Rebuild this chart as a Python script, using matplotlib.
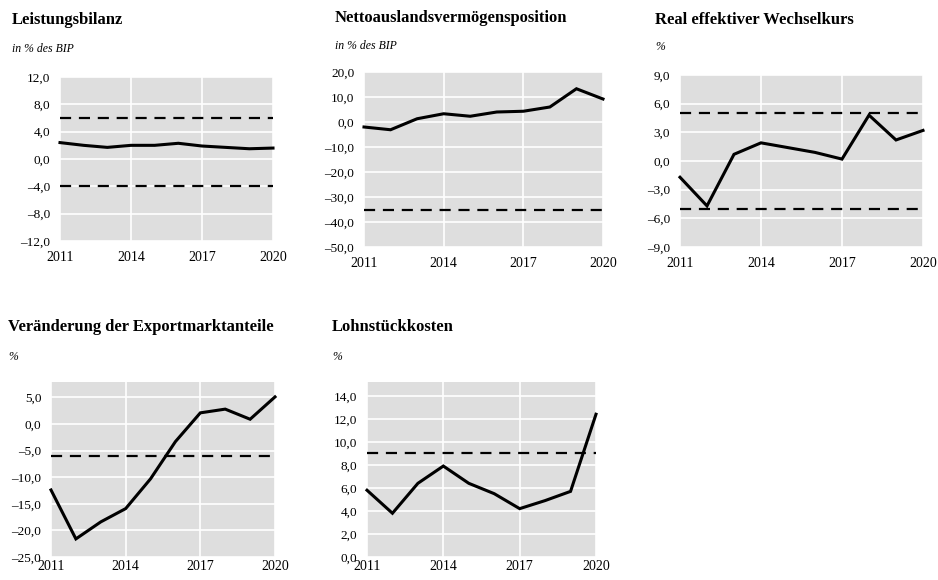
import matplotlib
matplotlib.use("Agg")
import matplotlib.pyplot as plt
from matplotlib.ticker import FuncFormatter

plt.rcParams['font.family'] = ['Liberation Serif', 'DejaVu Serif']

years = [2011, 2012, 2013, 2014, 2015, 2016, 2017, 2018, 2019, 2020]

leistungsbilanz = [2.4, 2.0, 1.7, 2.0, 2.0, 2.3, 1.9, 1.7, 1.5, 1.6]
netto = [-2.0, -3.1, 1.3, 3.3, 2.3, 4.0, 4.3, 6.0, 13.3, 9.2]
wechselkurs = [-1.7, -4.7, 0.7, 1.9, 1.4, 0.9, 0.2, 4.8, 2.2, 3.2]
export = [-12.4, -21.6, -18.4, -15.9, -10.3, -3.3, 2.1, 2.8, 0.9, 5.1]
lohn = [5.8, 3.8, 6.4, 7.9, 6.4, 5.5, 4.2, 4.9, 5.7, 12.4]

titles = ["Leistungsbilanz", "Nettoauslandsvermögensposition", "Real effektiver Wechselkurs",
          "Veränderung der Exportmarktanteile", "Lohnstückkosten"]
units = ["in % des BIP", "in % des BIP", "%", "%", "%"]
thresholds = [[6.0, -4.0], [-35.0], [5.0, -5.0], [-6.0], [9.0]]
yticks = [list(range(-12, 13, 4)), list(range(-50, 21, 10)), list(range(-9, 10, 3)),
          list(range(-25, 6, 5)), list(range(0, 15, 2))]
ylims = [(-12, 12), (-50, 20), (-9, 9), (-25, 7.9), (0, 15.2)]
xticks = [2011, 2014, 2017, 2020]
series = [leistungsbilanz, netto, wechselkurs, export, lohn]

W, H = 938, 580
fig = plt.figure(figsize=(W / 100, H / 100), dpi=100)

# pixel boxes: left, top, right, bottom
boxes = [(60, 77, 273, 241), (364, 72, 603, 247), (680, 75, 923, 247),
         (51, 382, 275, 557), (367, 382, 596, 557)]
title_pos = [(12, 20, 49), (335, 18, 46), (655, 20, 47), (8, 327, 357), (332, 327, 357)]
xpads = [7, 7, 7, 2, 2]

def fmt(v, pos):
    s = f"{v:.1f}".replace(".", ",")
    return s.replace("-", "\u2013")

for i in range(5):
    l, t, r, b = boxes[i]
    ax = fig.add_axes([l / W, 1 - b / H, (r - l) / W, (b - t) / H])
    ax.set_facecolor("#dedede")
    for s in ax.spines.values():
        s.set_visible(False)
    ax.set_xlim(2011, 2020)
    ax.set_ylim(*ylims[i])
    ax.set_xticks(xticks)
    ax.set_yticks(yticks[i])
    ax.yaxis.set_major_formatter(FuncFormatter(fmt))
    ax.grid(True, color="white", linewidth=1.2)
    ax.set_axisbelow(True)
    ax.tick_params(axis="y", length=0, labelsize=9.5, pad=7)
    ax.tick_params(axis="x", length=0, labelsize=10, pad=xpads[i])
    for th in thresholds[i]:
        ax.axhline(th, color="black", linewidth=1.6, dashes=(5, 3.5))
    ax.plot(years, series[i], color="black", linewidth=2.2, solid_joinstyle="miter", clip_on=False)
    tx, ty, uy = title_pos[i]
    fig.text(tx / W, 1 - ty / H, titles[i], fontsize=12, fontweight="bold", va="center", ha="left")
    fig.text(tx / W, 1 - uy / H, units[i], fontsize=8.5, style="italic", va="center", ha="left")

fig.savefig("out.png", dpi=100, facecolor="white")
